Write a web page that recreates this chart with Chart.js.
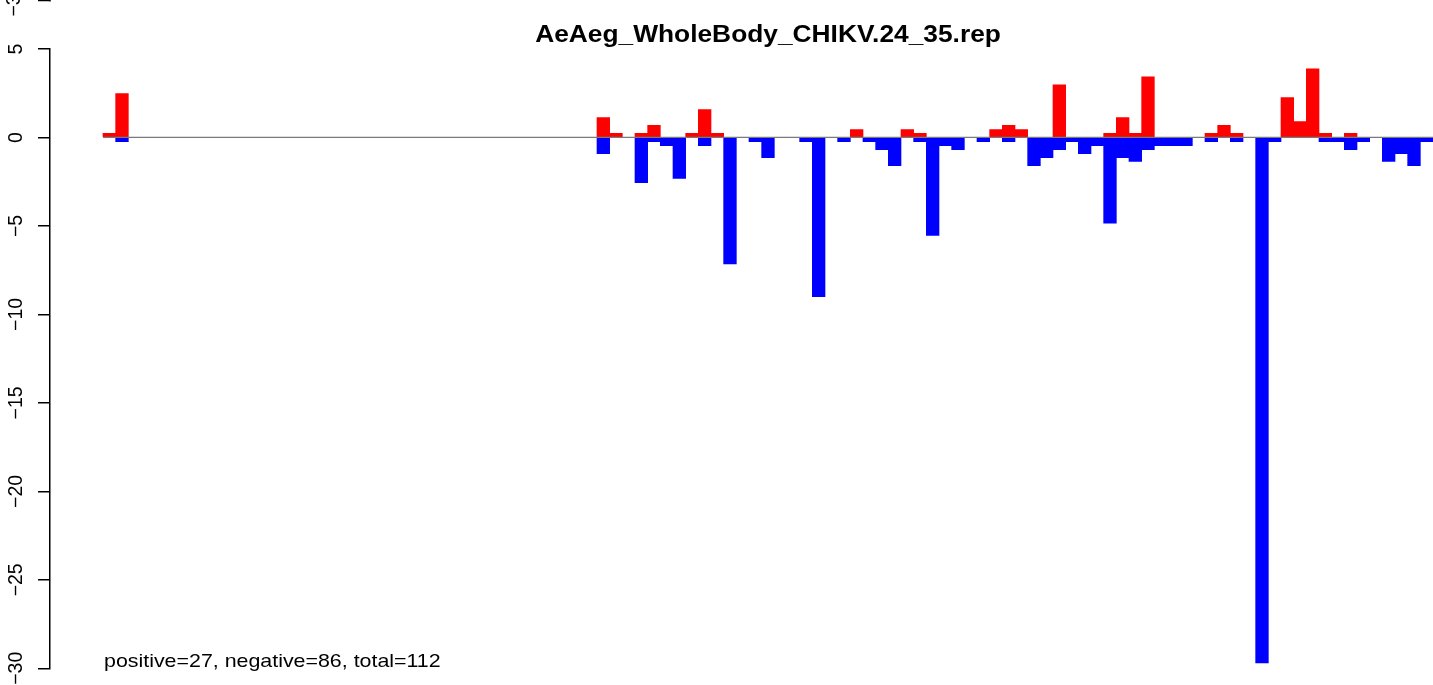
<!DOCTYPE html>
<html>
<head>
<meta charset="utf-8">
<script src="https://cdn.jsdelivr.net/npm/chart.js@4/dist/chart.umd.min.js"></script>
<style>
    html, body { margin: 0; padding: 0; background: #fff; }
    #wrap { width: 1433px; height: 685px; position: relative; }
</style>
</head>
<body>
<div id="wrap"><canvas id="repChart"></canvas></div>
<script>
// данные: по одному столбцу на каждую позицию, 0 = столбца нет
const chartTitle = 'AeAeg_WholeBody_CHIKV.24_35.rep';
const footNote = 'positive=27, negative=86, total=112';

const positiveValues = [
    0.23, 2.48, 0, 0, 0, 0, 0, 0, 0, 0,
    0, 0, 0, 0, 0, 0, 0, 0, 0, 0,
    0, 0, 0, 0, 0, 0, 0, 0, 0, 0,
    0, 0, 0, 0, 0, 0, 0, 0, 0, 1.13,
    0.23, 0, 0.23, 0.68, 0, 0, 0.23, 1.58, 0.23, 0,
    0, 0, 0, 0, 0, 0, 0, 0, 0, 0.45,
    0, 0, 0, 0.45, 0.23, 0, 0, 0, 0, 0,
    0.45, 0.68, 0.45, 0, 0, 2.98, 0, 0, 0, 0.23,
    1.13, 0.23, 3.43, 0, 0, 0, 0, 0.23, 0.68, 0.23,
    0, 0, 0, 2.26, 0.9, 3.88, 0.23, 0, 0.23, 0,
    0, 0, 0, 0, 0
];

const negativeValues = [
    0, -0.24, 0, 0, 0, 0, 0, 0, 0, 0,
    0, 0, 0, 0, 0, 0, 0, 0, 0, 0,
    0, 0, 0, 0, 0, 0, 0, 0, 0, 0,
    0, 0, 0, 0, 0, 0, 0, 0, 0, -0.91,
    0, 0, -2.55, -0.24, -0.46, -2.32, 0, -0.46, 0, -7.14,
    0, -0.24, -1.14, 0, 0, -0.24, -9.0, 0, -0.24, 0,
    -0.24, -0.69, -1.59, 0, -0.24, -5.53, -0.46, -0.69, 0, -0.24,
    0, -0.24, 0, -1.59, -1.14, -0.69, -0.24, -0.91, -0.46, -4.85,
    -1.14, -1.36, -0.69, -0.46, -0.46, -0.46, 0, -0.24, 0, -0.24,
    0, -29.7, -0.24, 0, 0, 0, -0.24, -0.24, -0.69, -0.24,
    0, -1.36, -0.91, -1.59, -0.24
];

const yTicks = { min: -30, max: 5, step: 5 };

const positions = positiveValues.map((v, i) => i);

function toPoints(values) {
    return values.map((v, i) => ({ x: positions[i], y: v === 0 ? null : v }));
}

const FONT = "'Liberation Sans', Arial, sans-serif";

// текст, растянутый по горизонтали как в исходной картинке
function stretchedText(ctx, text, x, y, size, bold, sx, align) {
    ctx.save();
    ctx.font = (bold ? 'bold ' : '') + size + 'px ' + FONT;
    ctx.fillStyle = '#000';
    ctx.textBaseline = 'alphabetic';
    ctx.textAlign = align;
    ctx.translate(x, y);
    ctx.scale(sx, 1);
    ctx.fillText(text, 0, 0);
    ctx.restore();
}

const decorPlugin = {
    id: 'decor',
    afterDatasetsDraw(chart) {
        const ctx = chart.ctx;
        const xs = chart.scales.x;
        const ys = chart.scales.y;
        const left = xs.getPixelForValue(positions[0] - 0.5);
        const y0 = ys.getPixelForValue(0);
        // нулевая линия
        ctx.save();
        ctx.strokeStyle = '#7a7a7a';
        ctx.lineWidth = 1.2;
        ctx.beginPath();
        ctx.moveTo(left, y0);
        ctx.lineTo(chart.chartArea.right, y0);
        ctx.stroke();
        ctx.restore();
    },
    afterDraw(chart) {
        const ctx = chart.ctx;
        const xs = chart.scales.x;
        const left = xs.getPixelForValue(positions[0] - 0.5);
        const mid = (left + chart.chartArea.right) / 2;
        stretchedText(ctx, chartTitle, mid, 41.5, 23.3, true, 1.13, 'center');
        stretchedText(ctx, footNote, left + 1, 666.5, 18.6, false, 1.15, 'left');

        // обрезанный кусок оси соседней панели сверху
        const ca = chart.chartArea;
        ctx.save();
        ctx.strokeStyle = '#000';
        ctx.lineWidth = 1.5;
        ctx.beginPath();
        ctx.moveTo(ca.left - 12, 0.5);
        ctx.lineTo(ca.left, 0.5);
        ctx.moveTo(ca.left, 0);
        ctx.lineTo(ca.left, 1.5);
        ctx.stroke();
        ctx.translate(15, 0);
        ctx.rotate(-Math.PI / 2);
        ctx.font = '19.5px ' + FONT;
        ctx.fillStyle = '#000';
        ctx.textAlign = 'center';
        ctx.textBaseline = 'middle';
        ctx.fillText('\u221230', 0, 0);
        ctx.restore();
    }
};

new Chart(document.getElementById('repChart'), {
    type: 'bar',
    data: {
        datasets: [{
            label: 'positive',
            data: toPoints(positiveValues),
            backgroundColor: '#ff0000',
            borderWidth: 0,
            grouped: false,
            barPercentage: 1,
            categoryPercentage: 1
        }, {
            label: 'negative',
            data: toPoints(negativeValues),
            backgroundColor: '#0000ff',
            borderWidth: 0,
            grouped: false,
            barPercentage: 1,
            categoryPercentage: 1
        }]
    },
    options: {
        responsive: true,
        maintainAspectRatio: false,
        animation: false,
        layout: { padding: { top: 49, bottom: 16, left: 0, right: 0 } },
        plugins: {
            legend: { display: false },
            title: { display: false },
            tooltip: { enabled: false }
        },
        scales: {
            x: {
                type: 'linear',
                display: false,
                offset: false,
                min: -4.684,
                max: 104.5
            },
            y: {
                min: yTicks.min,
                max: yTicks.max,
                afterFit: scale => { scale.width = 50; },
                ticks: {
                    stepSize: yTicks.step,
                    minRotation: 90,
                    maxRotation: 90,
                    crossAlign: 'center',
                    padding: 5,
                    color: '#000',
                    font: { family: FONT, size: 19.5 },
                    callback: value => String(value).replace('-', '\u2212')
                },
                grid: {
                    drawOnChartArea: false,
                    drawTicks: true,
                    tickLength: 12,
                    color: '#000',
                    lineWidth: 1.5
                },
                border: { display: true, color: '#000', width: 1.5 }
            }
        }
    },
    plugins: [decorPlugin]
});
</script>
</body>
</html>
